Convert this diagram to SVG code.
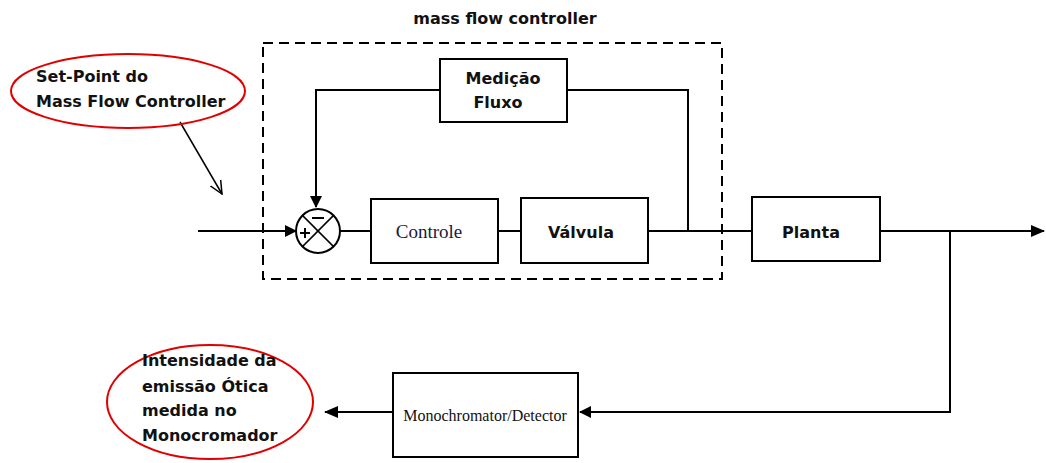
<svg xmlns="http://www.w3.org/2000/svg" width="1046" height="463" viewBox="0 0 1046 463">
<style>
.box{fill:#fff;stroke:#000;stroke-width:2}
.ln{fill:none;stroke:#000;stroke-width:2}
.sb{font-family:"DejaVu Sans","Liberation Sans",sans-serif;font-weight:bold;font-size:16px;fill:#111}
.sr{font-family:"Liberation Serif","DejaVu Serif",serif;font-size:16px;fill:#111}
.ell{fill:none;stroke:#e00000;stroke-width:2}
</style>
<defs>
<marker id="ah" markerWidth="12" markerHeight="12" refX="11" refY="6" orient="auto" markerUnits="userSpaceOnUse">
<path d="M0,0 L12,6 L0,12 Z" fill="#000"/>
</marker>
<marker id="ah2" markerWidth="14" markerHeight="12" refX="13" refY="6" orient="auto" markerUnits="userSpaceOnUse">
<path d="M0,0 L14,6 L0,12 Z" fill="#000"/>
</marker>
<marker id="open" markerWidth="14" markerHeight="14" refX="13" refY="7" orient="auto" markerUnits="userSpaceOnUse">
<path d="M0,1 L13,7 L0,13" fill="none" stroke="#000" stroke-width="1.5"/>
</marker>
</defs>
<rect x="0" y="0" width="1046" height="463" fill="#fff"/>

<g id="mfc-boundary">
<rect x="263" y="43" width="459" height="236" fill="none" stroke="#000" stroke-width="2" stroke-dasharray="10,6"/>
<text class="sb" x="505" y="24" text-anchor="middle">mass flow controller</text>
</g>

<g id="connectors">
<line class="ln" x1="198" y1="231" x2="296" y2="231" marker-end="url(#ah)"/>
<line class="ln" x1="340" y1="231" x2="371" y2="231"/>
<line class="ln" x1="498" y1="231" x2="521" y2="231"/>
<line class="ln" x1="648" y1="231" x2="752" y2="231"/>
<polyline class="ln" points="688,231 688,90 567,90"/>
<polyline class="ln" points="440,90 316,90 316,207" marker-end="url(#ah)"/>
<line class="ln" x1="880" y1="231" x2="1044" y2="231" marker-end="url(#ah2)"/>
<polyline class="ln" points="950,231 950,412 580,412" marker-end="url(#ah)"/>
<line class="ln" x1="393" y1="412" x2="325" y2="412" marker-end="url(#ah2)"/>
<line x1="180" y1="122" x2="222" y2="194" stroke="#000" stroke-width="1.5" marker-end="url(#open)"/>
</g>

<g id="sum">
<circle cx="318" cy="231" r="22" fill="#fff" stroke="#000" stroke-width="2"/>
<line x1="302.4" y1="215.4" x2="333.6" y2="246.6" stroke="#000" stroke-width="1.5"/>
<line x1="333.6" y1="215.4" x2="302.4" y2="246.6" stroke="#000" stroke-width="1.5"/>
<line x1="312" y1="218" x2="324" y2="218" stroke="#000" stroke-width="2"/>
<line x1="300" y1="233" x2="310" y2="233" stroke="#000" stroke-width="2"/>
<line x1="305" y1="228" x2="305" y2="238" stroke="#000" stroke-width="2"/>
</g>

<g id="medicao">
<rect class="box" x="440" y="59" width="127" height="63"/>
<text class="sb" x="503" y="84" text-anchor="middle">Medição</text>
<text class="sb" x="498" y="108" text-anchor="middle">Fluxo</text>
</g>

<g id="controle">
<rect class="box" x="371" y="199" width="127" height="64"/>
<text class="sr" x="429" y="238" text-anchor="middle" style="font-size:19px;fill:#1a1a40">Controle</text>
</g>

<g id="valvula">
<rect class="box" x="521" y="198" width="127" height="65"/>
<text class="sb" x="581" y="238" text-anchor="middle">Válvula</text>
</g>

<g id="planta">
<rect class="box" x="752" y="197" width="128" height="64"/>
<text class="sb" x="811" y="238" text-anchor="middle">Planta</text>
</g>

<g id="mono">
<rect class="box" x="393" y="373" width="185" height="84"/>
<text class="sr" x="485" y="421" text-anchor="middle">Monochromator/Detector</text>
</g>

<g id="setpoint">
<ellipse class="ell" cx="128" cy="91" rx="117" ry="37"/>
<text class="sb" x="36" y="82">Set-Point do</text>
<text class="sb" x="36" y="107">Mass Flow Controller</text>
</g>

<g id="intensidade">
<ellipse class="ell" cx="210" cy="402" rx="103" ry="57"/>
<text class="sb" x="142" y="366">Intensidade da</text>
<text class="sb" x="142" y="392">emissão Ótica</text>
<text class="sb" x="142" y="416">medida no</text>
<text class="sb" x="142" y="441">Monocromador</text>
</g>
</svg>
